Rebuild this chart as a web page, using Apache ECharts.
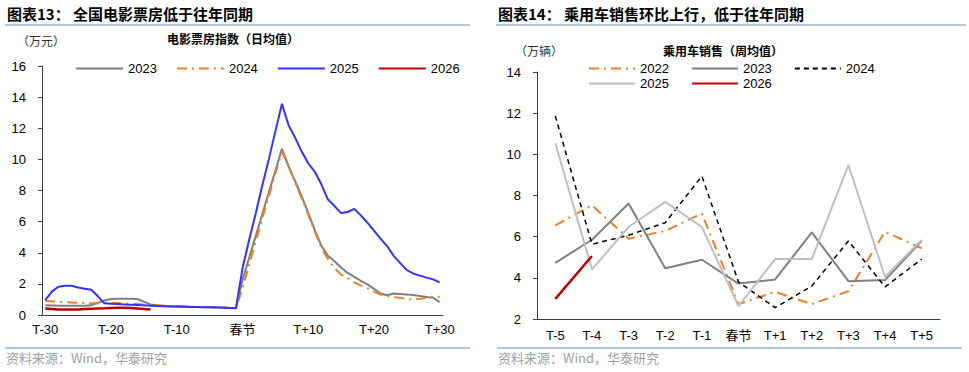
<!DOCTYPE html>
<html><head><meta charset="utf-8">
<script src="https://cdn.jsdelivr.net/npm/echarts@6/dist/echarts.min.js"></script>
<style>html,body{margin:0;padding:0;background:#fff}#c{width:969px;height:372px}</style>
</head><body><div id="c"></div>
<script>
// ---------- Left chart: 电影票房指数（日均值） ----------
const dayLabels = ['T-30','T-29','T-28','T-27','T-26','T-25','T-24','T-23','T-22','T-21',
  'T-20','T-19','T-18','T-17','T-16','T-15','T-14','T-13','T-12','T-11',
  'T-10','T-9','T-8','T-7','T-6','T-5','T-4','T-3','T-2','T-1','春节',
  'T+1','T+2','T+3','T+4','T+5','T+6','T+7','T+8','T+9','T+10',
  'T+11','T+12','T+13','T+14','T+15','T+16','T+17','T+18','T+19','T+20',
  'T+21','T+22','T+23','T+24','T+25','T+26','T+27','T+28','T+29','T+30'];
const box2023 = [0.62,0.61,0.60,0.60,0.60,0.60,0.60,0.62,0.78,0.93,
  1.03,1.05,1.05,1.05,1.03,0.85,0.68,0.62,0.58,0.56,
  0.55,0.54,0.53,0.52,0.51,0.50,0.49,0.48,0.46,0.45,
  2.24,3.65,5.05,6.46,7.87,9.27,10.68,
  9.55,8.61,7.63,6.56,5.45,4.45,3.80,3.45,3.05,2.70,2.45,2.20,1.97,1.68,
  1.38,1.27,1.38,1.35,1.31,1.28,1.22,1.16,1.10,0.83];
const box2024 = [0.90,0.88,0.85,0.82,0.80,0.78,0.77,0.76,0.76,0.77,
  0.78,0.77,0.74,0.72,0.70,0.67,0.64,0.62,0.60,0.58,
  0.56,0.55,0.54,0.53,0.51,0.50,0.49,0.47,0.45,0.43,
  1.70,3.20,4.70,6.20,7.60,9.10,10.50,
  9.60,8.50,7.50,6.45,5.34,4.30,3.60,3.00,2.60,2.38,2.10,1.90,1.72,1.50,
  1.32,1.20,1.15,1.10,1.02,1.00,1.05,1.12,1.16,1.17];
const box2025 = [0.95,1.50,1.82,1.88,1.88,1.77,1.69,1.62,1.20,0.75,
  0.72,0.70,0.68,0.66,0.64,0.62,0.60,0.58,0.57,0.55,
  0.54,0.53,0.52,0.51,0.50,0.49,0.48,0.47,0.45,0.43,
  3.00,4.80,6.50,8.30,10.00,11.80,13.57,
  12.20,11.40,10.50,9.75,9.20,8.40,7.42,7.00,6.55,6.62,6.82,6.40,5.93,5.42,
  4.90,4.43,3.80,3.33,2.88,2.66,2.53,2.40,2.29,2.10];
const box2026 = [0.42,0.38,0.36,0.35,0.35,0.36,0.38,0.40,0.42,0.43,
  0.45,0.46,0.46,0.45,0.42,0.39,0.36];

// ---------- Right chart: 乘用车销售（周均值） ----------
const weekLabels = ['T-5','T-4','T-3','T-2','T-1','春节','T+1','T+2','T+3','T+4','T+5'];
const car2022 = [6.55,7.53,5.90,6.28,7.12,2.72,3.32,2.72,3.35,6.24,5.43];
const car2023 = [4.73,5.85,7.61,4.47,4.88,3.72,3.92,6.21,3.84,3.89,5.80];
const car2024 = [11.87,5.63,6.07,6.68,8.94,3.80,2.55,3.60,5.79,3.56,4.91];
const car2025 = [10.54,4.41,6.47,7.69,6.47,2.63,4.91,4.91,9.48,4.05,5.84];
const car2026 = [2.98,5.06];

const F = "'Liberation Sans','Noto Sans CJK SC',sans-serif";
const FC = "'Noto Sans CJK SC','Liberation Sans',sans-serif";
const AX = '#404040';

const chart = echarts.init(document.getElementById('c'), null, {renderer: 'svg'});

function xAx(gi, data, tickInt, margin) {
  return {type: 'category', gridIndex: gi, data: data, boundaryGap: true,
    axisLine: {lineStyle: {color: AX, width: 1}},
    axisTick: {interval: tickInt, length: 4, lineStyle: {color: AX}},
    axisLabel: {interval: tickInt, margin: margin, fontSize: 13, color: '#000', fontFamily: F},
    splitLine: {show: false}};
}
function yAx(gi, min, max) {
  return {type: 'value', gridIndex: gi, min: min, max: max, interval: 2,
    axisLine: {show: true, lineStyle: {color: AX, width: 1}},
    axisTick: {show: true, length: 4, lineStyle: {color: AX}},
    axisLabel: {margin: 16, fontSize: 13, color: '#000', fontFamily: F},
    splitLine: {show: false}};
}
function ln(name, gi, data, color, width, type) {
  return {name: name, type: 'line', xAxisIndex: gi, yAxisIndex: gi, data: data,
    symbol: 'none', smooth: false, silent: true,
    lineStyle: {color: color, width: width, type: type || 'solid'},
    itemStyle: {color: color}};
}
function lg(left, top, gap, width, data, fmt) {
  const o = {left: left, top: top, padding: 0, itemWidth: width, itemHeight: 12, itemGap: gap,
    selectedMode: false, data: data,
    itemStyle: {opacity: 0, borderWidth: 0},
    textStyle: {fontSize: 13, color: '#000', fontFamily: F}};
  if (fmt) o.formatter = fmt;
  return o;
}
const strip = function (n) { return n.replace('乘用车', ''); };

const dashDot = [10, 5, 2, 5];

chart.setOption({
  animation: false,
  backgroundColor: '#fff',
  grid: [
    {left: 42, top: 66, width: 401, height: 249},
    {left: 537, top: 72, width: 403, height: 247}
  ],
  xAxis: [xAx(0, dayLabels, 9, 8), xAx(1, weekLabels, 0, 10)],
  yAxis: [yAx(0, 0, 16), yAx(1, 2, 14)],
  legend: [
    lg(75, 62, 19, 47, ['2023', '2024', '2025', '2026']),
    lg(588, 62, 22, 46, ['乘用车2022', '乘用车2023', '乘用车2024'], strip),
    lg(588, 77, 22, 46, ['乘用车2025', '乘用车2026'], strip)
  ],
  series: [
    ln('2023', 0, box2023, '#7f7f7f', 2),
    ln('2024', 0, box2024, '#f07d2a', 2, dashDot),
    ln('2025', 0, box2025, '#3333ff', 2),
    ln('2026', 0, box2026, '#c00000', 2.5),
    ln('乘用车2022', 1, car2022, '#f07d2a', 2, dashDot),
    ln('乘用车2023', 1, car2023, '#808080', 2),
    ln('乘用车2024', 1, car2024, '#000000', 1.5, [5, 4]),
    ln('乘用车2025', 1, car2025, '#bfbfbf', 2),
    ln('乘用车2026', 1, car2026, '#c00000', 2.5)
  ],
  graphic: [
    {type: 'text', left: 7, top: 6, style: {text: '图表13：', font: 'bold 15px ' + FC, fill: '#000'}},
    {type: 'text', left: 73, top: 6, style: {text: '全国电影票房低于往年同期', font: 'bold 15px ' + FC, fill: '#000'}},
    {type: 'line', shape: {x1: 5, y1: 25, x2: 470, y2: 25}, style: {stroke: '#9db3d3', lineWidth: 1.5}},
    {type: 'text', left: 17, top: 34, style: {text: '（万元）', font: '12px ' + FC, fill: '#333'}},
    {type: 'text', left: 167, top: 32, style: {text: '电影票房指数（日均值）', font: 'bold 12px ' + FC, fill: '#000'}},
    {type: 'line', shape: {x1: 5, y1: 348, x2: 470, y2: 348}, style: {stroke: '#9db3d3', lineWidth: 1.5}},
    {type: 'text', left: 6, top: 351, style: {text: '资料来源：Wind，华泰研究', font: '13px ' + FC, fill: '#a0a0a0'}},

    {type: 'text', left: 498, top: 6, style: {text: '图表14：', font: 'bold 15px ' + FC, fill: '#000'}},
    {type: 'text', left: 564, top: 6, style: {text: '乘用车销售环比上行，低于往年同期', font: 'bold 15px ' + FC, fill: '#000'}},
    {type: 'line', shape: {x1: 496, y1: 25, x2: 966, y2: 25}, style: {stroke: '#9db3d3', lineWidth: 1.5}},
    {type: 'text', left: 515, top: 44, style: {text: '（万辆）', font: '12px ' + FC, fill: '#333'}},
    {type: 'text', left: 663, top: 44, style: {text: '乘用车销售（周均值）', font: 'bold 12px ' + FC, fill: '#000'}},
    {type: 'line', shape: {x1: 497, y1: 348, x2: 962, y2: 348}, style: {stroke: '#9db3d3', lineWidth: 1.5}},
    {type: 'text', left: 498, top: 351, style: {text: '资料来源：Wind，华泰研究', font: '13px ' + FC, fill: '#a0a0a0'}}
  ]
});
</script>
</body></html>
